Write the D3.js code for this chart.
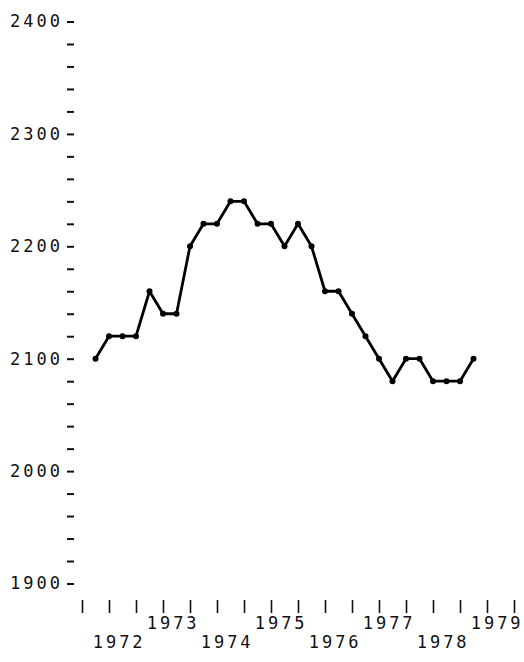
<!DOCTYPE html>
<html>
<head>
<meta charset="utf-8">
<script src="https://cdn.jsdelivr.net/npm/d3@7"></script>
<style>
  html, body { margin: 0; padding: 0; background: #fff; }
  svg text { font-family: "DejaVu Sans Mono", monospace; font-size: 17px; letter-spacing: 3px; fill: #111; }
</style>
</head>
<body>
<svg id="chart" width="524" height="662"></svg>
<script>
// quarterly observations, 1972 Q2 .. 1979 Q2
const quarters = d3.range(29).map((i) => 1972.25 + i * 0.25)
const values = [
  2100, 2120, 2120, 2120, 2160, 2140, 2140, 2200, 2220, 2220,
  2240, 2240, 2220, 2220, 2200, 2220, 2200, 2160, 2160, 2140,
  2120, 2100, 2080, 2100, 2100, 2080, 2080, 2080, 2100,
]
const yearLabels = [1972, 1973, 1974, 1975, 1976, 1977, 1978, 1979]
const yTicks = d3.range(1900, 2401, 20)
const xTicks = d3.range(1972, 1980.01, 0.5)

const svg = d3.select('#chart')

const x = d3.scaleLinear().domain([1972, 1980]).range([82, 514])
const y = d3.scaleLinear().domain([1900, 2400]).range([583.5, 21.5])

// y axis: short dashes, label every 100
const yAxis = svg
  .append('g')
  .attr('transform', 'translate(74,0)')
  .call(
    d3
      .axisLeft(y)
      .tickValues(yTicks)
      .tickSize(7)
      .tickPadding(4)
      .tickFormat((d) => (d % 100 === 0 ? d : '')),
  )
yAxis.select('.domain').remove()
yAxis.selectAll('line').attr('stroke', '#111').attr('stroke-width', 2)
yAxis.selectAll('text').attr('font-family', null).attr('font-size', null).attr('fill', null)

// x axis: vertical bars every half year
const xAxis = svg
  .append('g')
  .attr('transform', 'translate(0,600)')
  .call(d3.axisBottom(x).tickValues(xTicks).tickSize(13).tickFormat(''))
xAxis.select('.domain').remove()
xAxis.selectAll('line').attr('stroke', '#111').attr('stroke-width', 1.6)

svg
  .append('g')
  .selectAll('text')
  .data(yearLabels)
  .enter()
  .append('text')
  .attr('text-anchor', 'middle')
  .attr('x', (d) => x(d + 0.66) + 1.5)
  .attr('y', (d) => (d % 2 === 1 ? 629 : 648))
  .text((d) => d)

// series
const line = d3
  .line()
  .x((d, i) => x(quarters[i]))
  .y((d) => y(d))

svg
  .append('path')
  .datum(values)
  .attr('fill', 'none')
  .attr('stroke', '#000')
  .attr('stroke-width', 2.8)
  .attr('stroke-linejoin', 'round')
  .attr('d', line)

svg
  .append('g')
  .selectAll('circle')
  .data(values)
  .enter()
  .append('circle')
  .attr('cx', (d, i) => x(quarters[i]))
  .attr('cy', (d) => y(d))
  .attr('r', 3)
  .attr('fill', '#000')
</script>
</body>
</html>
